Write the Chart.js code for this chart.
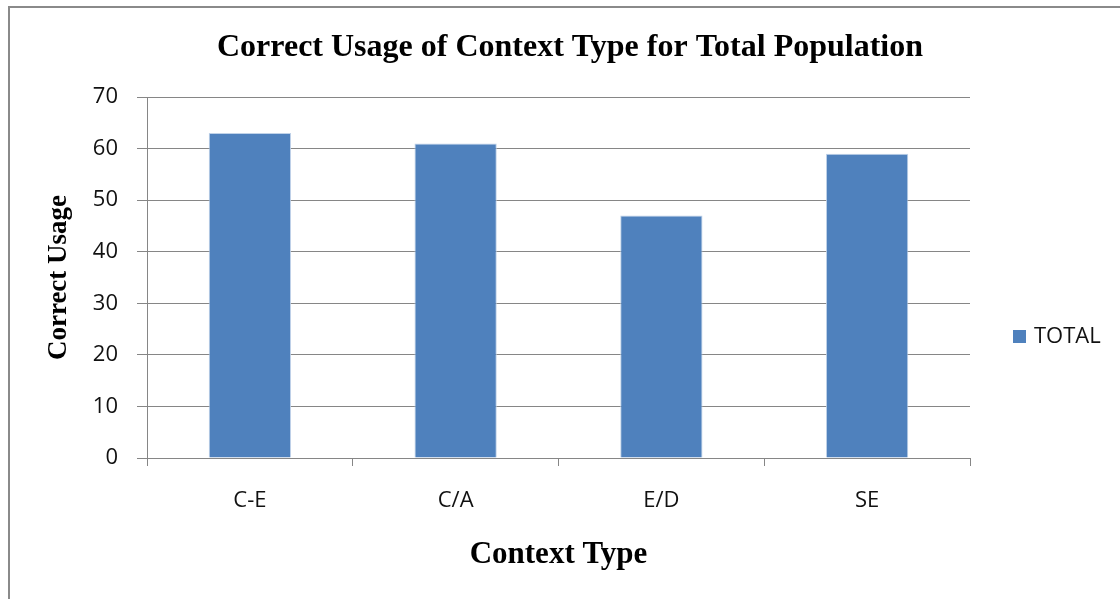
<!DOCTYPE html>
<html>
<head>
<meta charset="utf-8">
<title>Correct Usage of Context Type for Total Population</title>
<script src="https://cdn.jsdelivr.net/npm/chart.js@4.4.1/dist/chart.umd.min.js"></script>
<style>
    html, body { margin: 0; padding: 0; background: #fff; }
    canvas { display: block; }
</style>
</head>
<body>
<canvas id="usage-chart" width="1120" height="599"></canvas>
<script>
const categories = ['C-E', 'C/A', 'E/D', 'SE'];
const totals = [63, 61, 47, 59];
const seriesLabel = 'TOTAL';
const chartTitle = 'Correct Usage of Context Type for Total Population';
const xTitle = 'Context Type';
const yTitle = 'Correct Usage';
const yMin = 0;
const yMax = 70;
const yStep = 10;

const BAR_BLUE = '#4f81bd';
const GRID_GRAY = '#868686';
const TICK_FONT = { family: '"Open Sans", sans-serif', size: 22 };

// frame, titles and legend are painted straight onto the canvas
const decorPlugin = {
    id: 'decor',
    afterDraw(chart) {
        const ctx = chart.ctx;
        const area = chart.chartArea;
        ctx.save();

        ctx.strokeStyle = '#8a8a8a';
        ctx.lineWidth = 2;
        ctx.beginPath();
        ctx.moveTo(9, 700);
        ctx.lineTo(9, 7);
        ctx.lineTo(1200, 7);
        ctx.stroke();

        ctx.fillStyle = '#000';
        ctx.textAlign = 'center';
        ctx.textBaseline = 'alphabetic';
        ctx.font = 'bold 32px "Liberation Serif", serif';
        ctx.fillText(chartTitle, 570, 56);

        ctx.font = 'bold 31px "Liberation Serif", serif';
        ctx.fillText(xTitle, (area.left + area.right) / 2, 563);

        ctx.save();
        ctx.translate(66, (area.top + area.bottom) / 2);
        ctx.rotate(-Math.PI / 2);
        ctx.font = 'bold 27px "Liberation Serif", serif';
        ctx.fillText(yTitle, 0, 0);
        ctx.restore();

        const ds = chart.data.datasets[0];
        ctx.fillStyle = ds.backgroundColor;
        ctx.fillRect(1013, 330, 13, 13);
        ctx.fillStyle = '#111';
        ctx.textAlign = 'left';
        ctx.textBaseline = 'middle';
        ctx.font = '22px "Open Sans", sans-serif';
        ctx.fillText(ds.label, 1034, 337);

        ctx.restore();
    }
};

const chart = new Chart(document.getElementById('usage-chart').getContext('2d'), {
    type: 'bar',
    data: {
        labels: categories,
        datasets: [{
            label: seriesLabel,
            data: totals,
            backgroundColor: BAR_BLUE,
            borderColor: 'rgba(185, 205, 229, 0.9)',
            borderWidth: 1,
            categoryPercentage: 1,
            barPercentage: 0.4
        }]
    },
    options: {
        responsive: false,
        animation: false,
        layout: { padding: { top: 97, right: 150, bottom: 0, left: 0 } },
        plugins: {
            legend: { display: false },
            title: { display: false },
            tooltip: { enabled: false }
        },
        scales: {
            x: {
                afterFit(scale) { scale.height = 141; },
                grid: {
                    offset: true,
                    drawOnChartArea: false,
                    drawTicks: true,
                    tickLength: 8,
                    color: GRID_GRAY
                },
                border: { display: true, color: GRID_GRAY },
                ticks: { color: '#111', font: TICK_FONT, padding: 22 }
            },
            y: {
                min: yMin,
                max: yMax,
                afterFit(scale) { scale.width = 147; },
                grid: { color: GRID_GRAY, tickLength: 10 },
                border: { display: true, color: GRID_GRAY },
                ticks: { stepSize: yStep, color: '#111', font: TICK_FONT, padding: 19 }
            }
        }
    },
    plugins: [decorPlugin]
});
</script>
</body>
</html>
